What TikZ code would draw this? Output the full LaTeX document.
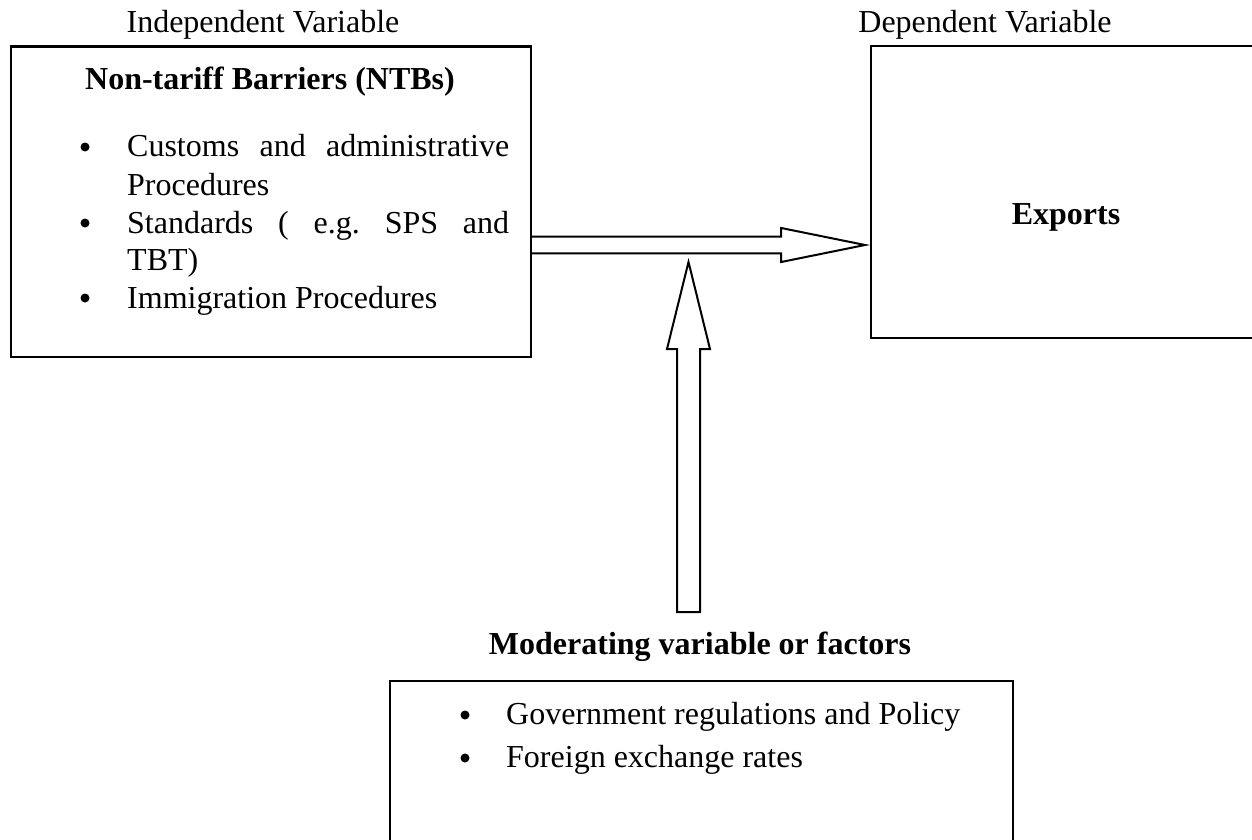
\documentclass[tikz,border=0pt]{standalone}
\usepackage{fontspec}
\setmainfont{Liberation Serif}
\usetikzlibrary{calc}
\begin{document}
\begin{tikzpicture}[x=1pt,y=-1pt,
  txt/.style={inner sep=0pt, font=\fontsize{32}{38}\selectfont},
  btxt/.style={inner sep=0pt, font=\fontsize{32}{38}\selectfont\bfseries},
  bul/.style={circle, fill=black, inner sep=0pt, minimum size=9pt},
  boxline/.style={draw=black, line width=2.2pt, inner sep=0pt},
  blockarrow/.style={draw=black, line width=2pt, fill=white, line join=miter}]
\useasboundingbox (0,0) rectangle (1252,840);
\clip (0,0) rectangle (1252,840);
% boxes
\node[boxline, minimum width=520pt, minimum height=310pt, anchor=north west] (ntb) at (10,45.5) {};
\node[boxline, minimum width=392pt, minimum height=292pt, anchor=north west] (dep) at (870,45) {};
\node[boxline, minimum width=623pt, minimum height=220pt, anchor=north west] (modbox) at (389,680) {};
% labels above boxes
\node[txt, anchor=base] (ivlab) at (263,33) {Independent Variable};
\node[txt, anchor=base] (dvlab) at (985,33) {Dependent Variable};
% left box content
\node[btxt, anchor=base] (ntbtitle) at (270,90) {Non-tariff Barriers (NTBs)};
\node[bul] (b1) at (85,147) {};
\node[txt, anchor=base west] (l1) at (127,157) {\hbox to 382pt{Customs\hfill and\hfill administrative}};
\node[txt, anchor=base west] (l2) at (127,195) {Procedures};
\node[bul] (b2) at (85,223) {};
\node[txt, anchor=base west] (l3) at (127,233) {\hbox to 382pt{Standards\hfill(\hfill e.g.\hfill SPS\hfill and}};
\node[txt, anchor=base west] (l4) at (127,270) {TBT)};
\node[bul] (b3) at (85,298) {};
\node[txt, anchor=base west] (l5) at (127,308) {Immigration Procedures};
% right box content
\node[btxt, anchor=base] (exports) at (1066,224) {Exports};
% moderating
\node[btxt, anchor=base] (modtitle) at (700,654) {Moderating variable or factors};
\node[bul] (mb1) at (465,715) {};
\node[txt, anchor=base west] (m1) at (506,724) {Government regulations and Policy};
\node[bul] (mb2) at (465,758) {};
\node[txt, anchor=base west] (m2) at (506,767) {Foreign exchange rates};
% horizontal block arrow
\coordinate (hy) at (0,245);
\coordinate (hs) at (ntb.east |- hy);
\coordinate (ht) at ($(dep.west |- hy)+(-5,0)$);
\draw[blockarrow] ($(hs)+(0,-8.3)$) -- ($(hs)+(249,-8.3)$) -- ($(hs)+(249,-17)$) -- (ht)
  -- ($(hs)+(249,17)$) -- ($(hs)+(249,8.3)$) -- ($(hs)+(0,8.3)$);
% vertical block arrow
\coordinate (vb) at (688.5,612);
\coordinate (vt) at (688.5,262);
\draw[blockarrow] ($(vb)+(-11.5,0)$) -- ($(vb)+(-11.5,-263)$) -- ($(vb)+(-21.5,-263)$) -- (vt)
  -- ($(vb)+(21.5,-263)$) -- ($(vb)+(11.5,-263)$) -- ($(vb)+(11.5,0)$) -- cycle;
\end{tikzpicture}
\end{document}
